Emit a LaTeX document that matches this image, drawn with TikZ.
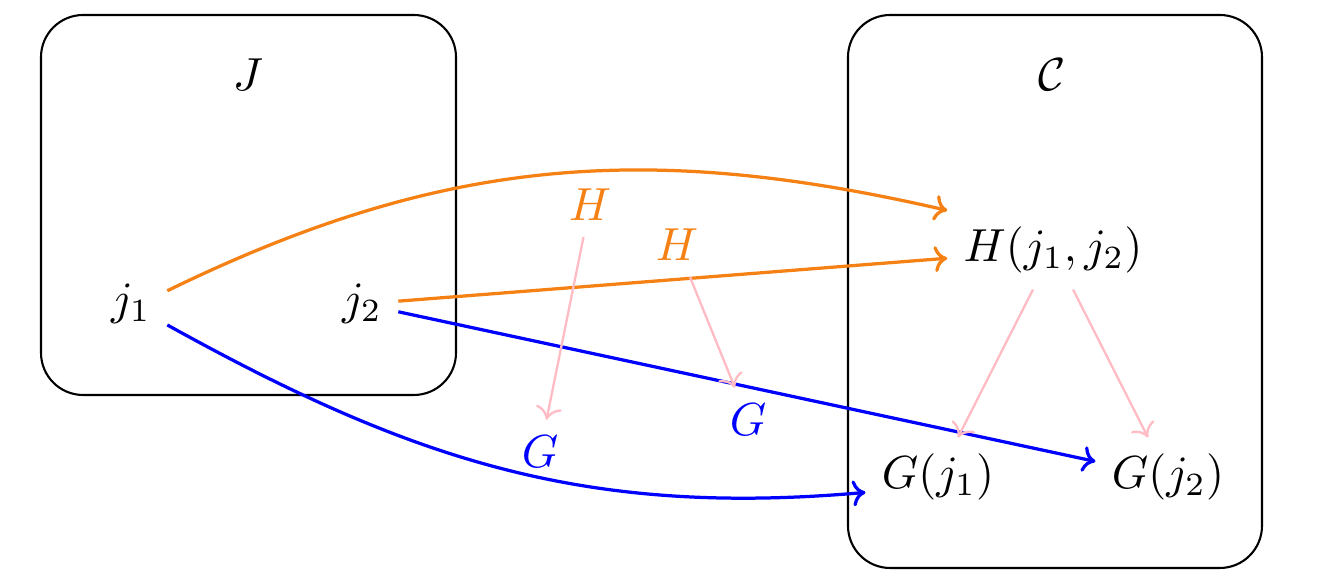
\documentclass[tikz,border=0pt]{standalone}
\usetikzlibrary{calc,arrows.meta}
\definecolor{myorange}{RGB}{245,128,20}
\definecolor{mypink}{RGB}{255,188,196}
\begin{document}
\begin{tikzpicture}[x=0.0075873cm, y=0.0075873cm,
  tip/.style={-{To[length=2.8pt,width=5.6pt]}},
  catbox/.style={draw, line width=0.45pt, rounded corners=0.32cm},
  harrow/.style={tip, line width=0.7pt, myorange},
  garrow/.style={tip, line width=0.7pt, blue},
  natarrow/.style={tip, line width=0.5pt, mypink},
  hlabel/.style={text=myorange},
  glabel/.style={text=blue}]
\useasboundingbox (0,0) rectangle (1318,588);
% boxes
\draw[catbox] (41,573) rectangle (456,193);
\draw[catbox] (848,573) rectangle (1262,20);
% objects
\node (J) at (248,513) {$J$};
\node (C) at (1052,513) {$\mathcal{C}$};
\node (j1) at (131,284) {$j_1$};
\node (j2) at (362,284) {$j_2$};
\node (Hj) at (1053,338) {$H(j_1,j_2)$};
\node (Gj1) at (938,111) {$G(j_1)$};
\node (Gj2) at (1168,111) {$G(j_2)$};
% labels
\node[hlabel] (H1) at (590,383) {$H$};
\node[hlabel] (H2) at (677,343) {$H$};
\node[glabel] (G1) at (540,136) {$G$};
\node[glabel] (G2) at (748,168) {$G$};
% functor arrows
\draw[harrow] (j1.20) to[out=26,in=167] (Hj.north west);
\draw[harrow] (j2) -- (Hj);
\draw[garrow] (j1.-30) to[out=-29,in=185] (Gj1.192);
\draw[garrow] (j2) -- (Gj2);
% natural transformation components
\draw[natarrow] (H1) -- (G1);
\draw[natarrow] (H2) -- (G2);
\draw[natarrow] (Hj) -- (Gj1);
\draw[natarrow] (Hj) -- (Gj2);
\end{tikzpicture}
\end{document}
